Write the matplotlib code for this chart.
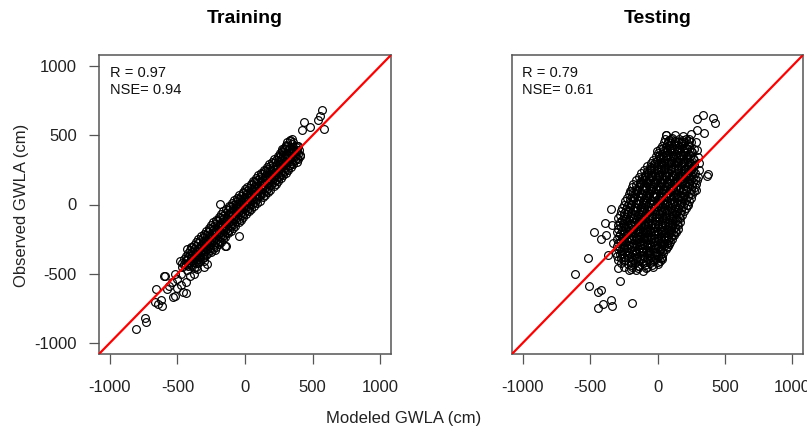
import matplotlib
matplotlib.use("Agg")
import matplotlib.pyplot as plt

plt.rcParams['font.family'] = ['Liberation Sans', 'DejaVu Sans']

# ---------------- Training data (modeled, observed) ----------------
train_modeled = [
    -432, -378,
    -468, -418, -362,
    -452, -398, -348,
    -478, -428, -382, -332,
    -448, -402, -356, -308,
    -438, -392, -338, -292,
    -418, -372, -322, -276,
    -408, -362, -312, -262, -224,
    -392, -346, -298, -256, -212,
    -374, -328, -286, -238, -196,
    -362, -312, -264, -222, -178,
    -344, -296, -252, -204, -162,
    -326, -278, -236, -188, -146,
    -304, -262, -214, -172, -124,
    -292, -238, -196, -148, -106,
    -268, -226, -178, -136, -86,
    -252, -204, -162, -114, -72,
    -234, -186, -138, -96, -48,
    -216, -164, -122, -74, -32,
    -194, -152, -104, -62, -12,
    -176, -128, -86, -38, 8,
    -162, -112, -64, -22, 28,
    -138, -92, -44, 2, 48,
    -122, -68, -26, 22, 68,
    -98, -56, -4, 38, 92,
    -82, -34, 14, 62, 108,
    -58, -16, 36, 78, 132,
    -42, 6, 54, 102, 148,
    -18, 24, 76, 118, 172,
    2, 46, 94, 142, 188,
    18, 66, 116, 158, 212,
    42, 84, 136, 178, 232,
    58, 106, 154, 202, 244,
    82, 124, 176, 218, 266,
    98, 146, 194, 242, 284,
    122, 164, 216, 258, 306,
    138, 186, 234, 282, 318,
    162, 204, 256, 298, 342,
    178, 226, 274, 322, 358,
    202, 244, 296, 338, 382,
    218, 266, 308, 356, 394,
    242, 284, 332, 368, 406,
    258, 306, 348, 392,
    276, 318, 366, 398,
    288, 336, 378,
    302, 344, 386,
    312, 356,
    332,
    # second, interleaved layer of the dense core
    -440, -390,
    -465, -412, -365,
    -438, -390, -342,
    -425, -378, -330, -300,
    -410, -360, -312,
    -395, -345, -296, -250,
    -380, -330, -282, -236,
    -365, -318, -272, -228,
    -348, -300, -256, -210,
    -330, -284, -238, -192,
    -312, -265, -220, -172,
    -295, -248, -200, -156,
    -275, -228, -182, -136,
    -260, -212, -166, -120,
    -240, -192, -146, -100,
    -224, -176, -128, -84,
    -206, -158, -110, -64,
    -184, -136, -90, -44,
    -166, -118, -72, -24,
    -148, -100, -54, -6,
    -128, -80, -34, 14,
    -110, -62, -16, 32,
    -90, -42, 4, 52,
    -70, -24, 24, 72,
    -52, -4, 44, 92,
    -32, 16, 64, 112,
    -12, 36, 84, 132,
    8, 56, 104, 152,
    28, 76, 124, 172,
    48, 96, 144, 192,
    68, 116, 164, 212,
    88, 136, 184, 232,
    108, 156, 204, 252,
    128, 176, 224, 272,
    148, 196, 244, 292,
    168, 216, 264, 312,
    188, 236, 284, 332,
    208, 256, 304, 350,
    228, 276, 324, 368,
    248, 296, 344, 386,
    268, 314, 360,
    284, 330, 376,
    298, 344, 388,
    312, 356,
    # scattered points / outliers
    -808, -739, -731, -659, -664, -640, -612, -625, -597, -577, -515, -440,
    -530, -455, -500, -560, -590, -540, -470, -428, -403, -353, -306, -184,
    -149, -142, -42, 567, 557, 542, 584, 438, 480, 423,
    -500, -470, -520, -440, -410, -380, -360, -400, -330, -300, -280, -420,
    350, 330, 390, 410, 300, 270,
]
train_observed = [
    -470, -462,
    -452, -446, -455,
    -428, -434, -425,
    -410, -404, -414, -408,
    -392, -386, -395, -388,
    -372, -366, -374, -368,
    -350, -356, -346, -352,
    -330, -334, -326, -332, -328,
    -310, -314, -306, -312, -308,
    -290, -294, -286, -292, -288,
    -270, -266, -274, -268, -272,
    -250, -254, -246, -252, -248,
    -230, -226, -234, -228, -232,
    -210, -214, -206, -212, -208,
    -190, -186, -194, -188, -192,
    -170, -174, -166, -172, -168,
    -150, -146, -154, -148, -152,
    -130, -134, -126, -132, -128,
    -110, -106, -114, -108, -112,
    -90, -94, -86, -92, -88,
    -70, -66, -74, -68, -72,
    -50, -54, -46, -52, -48,
    -30, -26, -34, -28, -32,
    -10, -14, -6, -12, -8,
    10, 6, 14, 8, 12,
    30, 34, 26, 32, 28,
    50, 46, 54, 48, 52,
    70, 74, 66, 72, 68,
    90, 86, 94, 88, 92,
    110, 114, 106, 112, 108,
    130, 126, 134, 128, 132,
    150, 154, 146, 152, 148,
    170, 166, 174, 168, 172,
    190, 194, 186, 192, 188,
    210, 206, 214, 208, 212,
    230, 234, 226, 232, 228,
    250, 246, 254, 248, 252,
    270, 274, 266, 272, 268,
    290, 286, 294, 288, 292,
    310, 314, 306, 312, 308,
    330, 326, 334, 328, 332,
    350, 354, 346, 352, 348,
    370, 366, 374, 368,
    390, 394, 386, 392,
    410, 406, 414,
    430, 434, 426,
    450, 454,
    468,
    # second, interleaved layer of the dense core
    -440, -444,
    -420, -416, -423,
    -400, -404, -397,
    -380, -384, -377, -382,
    -360, -356, -363,
    -340, -344, -337, -342,
    -320, -316, -323, -318,
    -300, -304, -297, -302,
    -280, -276, -283, -278,
    -260, -264, -257, -262,
    -240, -236, -243, -238,
    -220, -224, -217, -222,
    -200, -196, -203, -198,
    -180, -184, -177, -182,
    -160, -156, -163, -158,
    -140, -144, -137, -142,
    -120, -116, -123, -118,
    -100, -104, -97, -102,
    -80, -76, -83, -78,
    -60, -64, -57, -62,
    -40, -36, -43, -38,
    -20, -24, -17, -22,
    0, 4, -3, 2,
    20, 16, 23, 18,
    40, 44, 37, 42,
    60, 56, 63, 58,
    80, 84, 77, 82,
    100, 96, 103, 98,
    120, 124, 117, 122,
    140, 136, 143, 138,
    160, 164, 157, 162,
    180, 176, 183, 178,
    200, 204, 197, 202,
    220, 216, 223, 218,
    240, 244, 237, 242,
    260, 256, 263, 258,
    280, 284, 277, 282,
    300, 296, 303, 298,
    320, 324, 317, 322,
    340, 336, 343, 338,
    360, 364, 357,
    380, 376, 383,
    400, 404, 397,
    420, 416,
    # scattered points / outliers
    -899, -822, -847, -607, -705, -720, -734, -690, -516, -611, -660, -640,
    -669, -633, -600, -590, -520, -560, -580, -324, -309, -468, -453, 7,
    -302, -300, -228, 683, 640, 612, 545, 599, 559, 535,
    -540, -500, -500, -560, -520, -500, -390, -370, -380, -410, -430, -430,
    470, 460, 420, 360, 420, 400,
]

# ---------------- Testing data (modeled, observed) ----------------
test_modeled = [
    -215, -160, -105,
    -250, -190, -135, -80, -30,
    -270, -220, -165, -110, -55, 0,
    -290, -240, -185, -130, -80, -25, 20,
    -300, -250, -200, -150, -100, -45, 5, 35,
    -305, -260, -210, -160, -110, -60, -10, 40,
    -295, -245, -190, -140, -85, -35, 15, 60,
    -300, -250, -200, -150, -100, -50, 0, 45, 80,
    -290, -240, -185, -135, -80, -30, 20, 70, 95,
    -300, -250, -200, -150, -100, -50, 0, 50, 105,
    -285, -235, -180, -130, -75, -25, 25, 75, 120,
    -300, -250, -195, -145, -95, -45, 5, 55, 100, 135,
    -290, -235, -180, -130, -80, -30, 20, 70, 120, 150,
    -295, -245, -195, -145, -95, -45, 5, 55, 105, 155,
    -280, -225, -175, -120, -70, -20, 30, 80, 130, 165,
    -290, -240, -190, -140, -90, -40, 10, 60, 110, 170,
    -275, -225, -170, -120, -65, -15, 35, 85, 135, 185,
    -270, -220, -165, -115, -65, -15, 35, 85, 135, 200,
    -260, -205, -150, -100, -50, 0, 50, 100, 150, 210,
    -250, -200, -145, -95, -45, 5, 55, 105, 160, 225,
    -240, -185, -135, -85, -30, 20, 70, 120, 170, 235,
    -230, -180, -125, -75, -25, 25, 75, 125, 180, 250,
    -215, -165, -110, -60, -10, 40, 90, 140, 195, 255,
    -205, -155, -100, -50, 0, 50, 100, 150, 210, 270,
    -190, -140, -85, -35, 15, 65, 115, 165, 220, 275,
    -180, -130, -75, -25, 25, 75, 125, 180, 235, 285,
    -160, -110, -55, -5, 45, 95, 145, 195, 245, 290,
    -140, -90, -40, 10, 60, 110, 160, 210, 260, 300,
    -120, -70, -20, 30, 80, 130, 180, 230, 275,
    -100, -50, 0, 50, 100, 150, 200, 250, 305,
    -75, -25, 25, 75, 125, 175, 225, 270,
    -50, 0, 50, 100, 150, 200, 250, 310,
    -30, 20, 70, 120, 170, 220, 270,
    -10, 40, 90, 140, 190, 240, 300,
    5, 55, 105, 155, 205, 255,
    20, 70, 120, 170, 220, 270, 295,
    35, 85, 135, 185, 235,
    45, 100, 150, 200, 250, 285,
    55, 110, 160, 215,
    65, 130, 190, 250,
    # second, interleaved layer of the dense core
    -198, -147, -92, -42,
    -252, -193, -142, -88, -37, 7,
    -268, -222, -163, -117, -58, -12, 27,
    -282, -228, -183, -123, -77, -23, 18,
    -268, -217, -162, -112, -58, -13, 37,
    -277, -223, -172, -118, -72, -18, 28, 67,
    -263, -212, -158, -113, -53, -7, 47, 83,
    -273, -227, -168, -122, -68, -22, 32, 78,
    -262, -208, -157, -103, -52, 3, 48, 102,
    -277, -218, -172, -118, -72, -17, 28, 82, 118,
    -263, -212, -153, -107, -53, -3, 43, 97, 133,
    -272, -218, -172, -117, -68, -22, 32, 78, 132,
    -253, -202, -148, -97, -43, 7, 53, 107, 148,
    -267, -213, -163, -117, -63, -13, 37, 83, 142,
    -248, -202, -143, -97, -38, 12, 58, 112, 158,
    -247, -193, -142, -88, -42, 12, 62, 108, 167,
    -233, -182, -123, -77, -23, 27, 73, 127, 178,
    -227, -168, -122, -68, -18, 32, 78, 132, 192,
    -213, -162, -108, -62, -3, 47, 93, 147, 198,
    -207, -148, -102, -48, 2, 48, 102, 152, 212,
    -188, -142, -83, -37, 17, 63, 117, 163, 227,
    -182, -123, -77, -23, 27, 77, 123, 182, 238,
    -163, -117, -58, -12, 42, 92, 138, 192, 247,
    -157, -98, -52, 2, 48, 102, 148, 207, 258,
    -133, -87, -28, 22, 68, 122, 168, 222, 263,
    -117, -63, -13, 37, 83, 137, 183, 237, 277,
    -93, -47, 7, 53, 107, 153, 207, 248,
    -77, -23, 27, 73, 127, 177, 223, 267,
    -48, 2, 52, 98, 152, 198, 252,
    -27, 27, 73, 127, 173, 227, 273,
    -3, 43, 97, 143, 197, 243,
    17, 63, 117, 163, 217, 263,
    32, 78, 132, 178, 232,
    43, 97, 143, 197, 247,
    62, 108, 162, 208,
    73, 127, 173, 227,
    87, 133, 187,
    # third layer filling the darkest centre
    -240, -178, -128, -66, -16,
    -250, -188, -128, -78, -18, 32,
    -255, -196, -136, -86, -26, 24, 66,
    -250, -188, -134, -76, -24, 34, 82,
    -245, -186, -128, -74, -16, 36, 92,
    -236, -178, -124, -66, -12, 44, 98, 136,
    -218, -166, -108, -54, 4, 58, 108, 152,
    -198, -148, -88, -36, 18, 72, 126, 172,
    -176, -128, -66, -14, 42, 92, 148, 196,
    -152, -104, -44, 8, 62, 114, 168, 214,
    -124, -72, -18, 36, 88, 142, 196, 236,
    -92, -38, 14, 66, 118, 172, 224,
    -58, -6, 46, 98, 152, 204, 248,
    -22, 28, 82, 134, 186, 236,
    12, 64, 116, 166, 218,
    44, 96, 148, 198,
    78, 128, 178, 232,
    # scattered points / outliers
    -610, -517, -510, -443, -418, -438, -405, -348, -336, -187, -281, -293,
    -468, -393, -418, -336, -381, -343, -194, -368, -331, -144, -87, -194,
    30, -57, 336, 296, 410, 428, 296, 346, 237, 62, 99, -7, 13, -52, -95,
    -62, 366, 373, 286, 216, -99,
]
test_observed = [
    -475, -470, -478,
    -450, -455, -446, -452, -448,
    -425, -428, -422, -426, -424, -430,
    -400, -404, -398, -402, -396, -400, -405,
    -375, -378, -372, -376, -374, -380, -372, -376,
    -350, -354, -348, -352, -346, -350, -355, -348,
    -325, -322, -328, -324, -326, -320, -328, -325,
    -300, -304, -298, -302, -296, -300, -305, -298, -302,
    -275, -272, -278, -274, -276, -270, -278, -275, -272,
    -250, -254, -248, -252, -246, -250, -255, -248, -252,
    -225, -222, -228, -224, -226, -220, -228, -225, -222,
    -200, -204, -198, -202, -196, -200, -205, -198, -202, -200,
    -175, -172, -178, -174, -176, -170, -178, -175, -172, -176,
    -150, -154, -148, -152, -146, -150, -155, -148, -152, -150,
    -125, -122, -128, -124, -126, -120, -128, -125, -122, -126,
    -100, -104, -98, -102, -96, -100, -105, -98, -102, -100,
    -75, -72, -78, -74, -76, -70, -78, -75, -72, -76,
    -50, -54, -48, -52, -46, -50, -55, -48, -52, -50,
    -25, -22, -28, -24, -26, -20, -28, -25, -22, -26,
    0, -4, 2, -2, 4, 0, -5, 2, -2, 0,
    25, 28, 22, 26, 24, 30, 22, 25, 28, 24,
    50, 46, 52, 48, 54, 50, 45, 52, 48, 50,
    75, 78, 72, 76, 74, 80, 72, 75, 78, 74,
    100, 96, 102, 98, 104, 100, 95, 102, 98, 100,
    125, 128, 122, 126, 124, 130, 122, 125, 128, 124,
    150, 146, 152, 148, 154, 150, 145, 152, 148, 150,
    175, 178, 172, 176, 174, 180, 172, 175, 178, 174,
    200, 196, 202, 198, 204, 200, 195, 202, 198, 200,
    225, 228, 222, 226, 224, 230, 222, 225, 228,
    250, 246, 252, 248, 254, 250, 245, 252, 248,
    275, 278, 272, 276, 274, 280, 272, 275,
    300, 296, 302, 298, 304, 300, 295, 302,
    325, 328, 322, 326, 324, 330, 322,
    350, 346, 352, 348, 354, 350, 345,
    375, 378, 372, 376, 374, 380,
    400, 396, 402, 398, 404, 400, 395,
    425, 428, 422, 426, 424,
    450, 446, 452, 448, 454, 450,
    475, 478, 472, 476,
    500, 504, 496, 510,
    # second, interleaved layer of the dense core
    -436, -441, -434, -439,
    -411, -415, -409, -414, -410, -416,
    -386, -390, -384, -389, -385, -391, -387,
    -361, -365, -359, -364, -360, -366, -362,
    -336, -340, -334, -339, -335, -341, -337,
    -311, -315, -309, -314, -310, -316, -312, -310,
    -286, -290, -284, -289, -285, -291, -287, -285,
    -261, -265, -259, -264, -260, -266, -262, -260,
    -236, -240, -234, -239, -235, -241, -237, -235,
    -211, -215, -209, -214, -210, -216, -212, -210, -214,
    -186, -190, -184, -189, -185, -191, -187, -185, -189,
    -161, -165, -159, -164, -160, -166, -162, -160, -164,
    -136, -140, -134, -139, -135, -141, -137, -135, -139,
    -111, -115, -109, -114, -110, -116, -112, -110, -114,
    -86, -90, -84, -89, -85, -91, -87, -85, -89,
    -61, -65, -59, -64, -60, -66, -62, -60, -64,
    -36, -40, -34, -39, -35, -41, -37, -35, -39,
    -11, -15, -9, -14, -10, -16, -12, -10, -14,
    14, 10, 16, 11, 15, 9, 13, 15, 11,
    39, 35, 41, 36, 40, 34, 38, 40, 36,
    64, 60, 66, 61, 65, 59, 63, 65, 61,
    89, 85, 91, 86, 90, 84, 88, 90, 86,
    114, 110, 116, 111, 115, 109, 113, 115, 111,
    139, 135, 141, 136, 140, 134, 138, 140, 136,
    164, 160, 166, 161, 165, 159, 163, 165, 161,
    189, 185, 191, 186, 190, 184, 188, 190, 186,
    214, 210, 216, 211, 215, 209, 213, 215,
    239, 235, 241, 236, 240, 234, 238, 240,
    264, 260, 266, 261, 265, 259, 263,
    289, 285, 291, 286, 290, 284, 288,
    314, 310, 316, 311, 315, 309,
    339, 335, 341, 336, 340, 334,
    364, 360, 366, 361, 365,
    389, 385, 391, 386, 390,
    414, 410, 416, 411,
    439, 435, 441, 436,
    464, 460, 466,
    # third layer filling the darkest centre
    -343, -338, -346, -341, -344,
    -293, -297, -290, -295, -292, -296,
    -243, -239, -246, -241, -244, -240, -245,
    -193, -197, -190, -195, -192, -196, -191,
    -143, -139, -146, -141, -144, -140, -145,
    -93, -97, -90, -95, -92, -96, -91, -94,
    -43, -39, -46, -41, -44, -40, -45, -42,
    7, 3, 10, 5, 8, 4, 9, 6,
    57, 61, 54, 59, 56, 60, 55, 58,
    107, 103, 110, 105, 108, 104, 109, 106,
    157, 161, 154, 159, 156, 160, 155, 158,
    207, 203, 210, 205, 208, 204, 209,
    257, 261, 254, 259, 256, 260, 255,
    307, 303, 310, 305, 308, 304,
    357, 361, 354, 359, 356,
    407, 403, 410, 405,
    457, 461, 454, 459,
    # scattered points / outliers
    -499, -388, -588, -635, -617, -750, -719, -691, -732, -712, -552, -456,
    -199, -132, -252, -149, -223, -36, 96, -367, -276, -456, -456, -463,
    -396, -367, 647, 619, 624, 588, 540, 516, 473, 504, 473, 388, 347, 268, 180,
    185, 209, 223, 108, -7, -232,
]

assert len(train_modeled) == len(train_observed)
assert len(test_modeled) == len(test_observed)

panel_titles = ["Training", "Testing"]
panel_stats = [("0.97", "0.94"), ("0.79", "0.61")]
tick_values = [-1000, -500, 0, 500, 1000]
axis_limit = 1080

W, H = 807, 429
fig = plt.figure(figsize=(W / 100, H / 100), dpi=100)

def frac_box(x0, y0, x1, y1):
    return [x0 / W, 1 - y1 / H, (x1 - x0) / W, (y1 - y0) / H]

ax1 = fig.add_axes(frac_box(99, 55, 391, 354))
ax2 = fig.add_axes(frac_box(512, 55, 803, 354))

datasets = [(train_modeled, train_observed), (test_modeled, test_observed)]
edge = '#555555'

for i, (ax, (mod, obs)) in enumerate(zip([ax1, ax2], datasets)):
    ax.plot(mod, obs, linestyle='none', marker='o', markersize=5.6,
            markerfacecolor='none', markeredgecolor='black',
            markeredgewidth=0.85, zorder=2)
    ax.plot([-axis_limit, axis_limit], [-axis_limit, axis_limit],
            color='#ff0000', lw=1.6, zorder=3)
    ax.set_xlim(-axis_limit, axis_limit)
    ax.set_ylim(-axis_limit, axis_limit)
    ax.set_xticks(tick_values)
    ax.set_xticklabels([str(v) for v in tick_values])
    ax.tick_params(axis='x', length=7.5, width=0.9, color=edge, pad=11.5,
                   labelsize=12, labelcolor='#222222')
    if i == 0:
        ax.set_yticks(tick_values)
        ax.set_yticklabels([str(v) for v in tick_values])
        ax.tick_params(axis='y', length=7.5, width=0.9, color=edge, pad=8.5,
                       labelsize=12, labelcolor='#222222')
    else:
        ax.set_yticks([])
    for s in ax.spines.values():
        s.set_color(edge)
        s.set_linewidth(1.1)
    ax.set_title(panel_titles[i], fontsize=14, fontweight='bold', pad=23)
    r, nse = panel_stats[i]
    ax.text(0.036, 0.94, f"R = {r}", transform=ax.transAxes, fontsize=10.5,
            ha='left', va='center', color='#111111')
    ax.text(0.036, 0.882, f"NSE= {nse}", transform=ax.transAxes, fontsize=10.5,
            ha='left', va='center', color='#111111')

fig.text(22 / W, 1 - 205 / H, "Observed GWLA (cm)", rotation=90,
         ha='center', va='center', fontsize=12, color='#222222')
fig.text(404 / W, 1 - 418 / H, "Modeled GWLA (cm)", ha='center',
         va='center', fontsize=12, color='#222222')

fig.savefig("out.png", dpi=100)
